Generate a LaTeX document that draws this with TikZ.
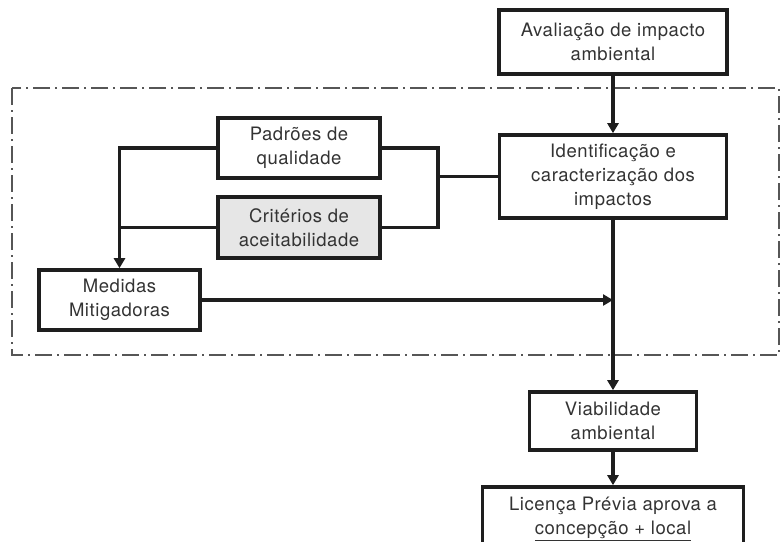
\documentclass[tikz,border=0pt]{standalone}
\usepackage{fontspec}
\setmainfont{TeX Gyre Heros}[LetterSpace=3]
\usetikzlibrary{arrows.meta}
\definecolor{ink}{HTML}{1E1E1E}
\definecolor{txt}{HTML}{333333}
\definecolor{critfill}{HTML}{E6E6E6}
\tikzset{
  x=1pt, y=-1pt,
  boxstyle/.style={draw=ink, line width=3.6pt, rectangle, align=center, inner sep=0pt,
    text=txt, font=\fontsize{18.5}{24}\selectfont},
  conn/.style={draw=ink, line width=3.2pt},
  arr/.style={conn, -{Triangle[length=10pt,width=11pt]}},
  frame/.style={draw=ink!75, line width=1.4pt, dash pattern=on 17pt off 5pt on 2pt off 5pt}
}
\begin{document}
\begin{tikzpicture}
\useasboundingbox (0,0) rectangle (781,541);
\draw[frame] (12,88) rectangle (779,355);
\node[boxstyle, minimum width=228pt, minimum height=64pt] (aval) at (613,42) {Avaliação de impacto\\ambiental};
\node[boxstyle, minimum width=162pt, minimum height=60pt] (padr) at (299,148) {Padrões de\\qualidade};
\node[boxstyle, minimum width=162pt, minimum height=61pt, fill=critfill] (crit) at (299,227.5) {Critérios de\\aceitabilidade};
\node[boxstyle, minimum width=227pt, minimum height=83pt] (ident) at (613,176.5) {Identificação e\\caracterização dos\\impactos};
\node[boxstyle, minimum width=161pt, minimum height=60pt] (med) at (119.5,300) {Medidas\\Mitigadoras};
\node[boxstyle, minimum width=167pt, minimum height=58pt] (viab) at (613,421) {Viabilidade\\ambiental};
\node[boxstyle, minimum width=261pt, minimum height=64pt] (lic) at (613,519) {Licença Prévia aprova a\\\underline{concepção + local}};
\coordinate (rj) at (438,176.5);
\coordinate (jn) at (613,300);
\draw[arr] (aval.south) -- (ident.north);
\draw[arr] (ident.south) -- (viab.north);
\draw[arr] (viab.south) -- (lic.north);
\draw[arr] (med.east) -- (jn);
\draw[arr] (padr.west) -| (med.north);
\draw[conn] (crit.west) -- (crit.west -| med.north);
\draw[conn] (padr.east) -| (rj) |- (crit.east);
\draw[conn] (rj) -- (ident.west);
\end{tikzpicture}
\end{document}
